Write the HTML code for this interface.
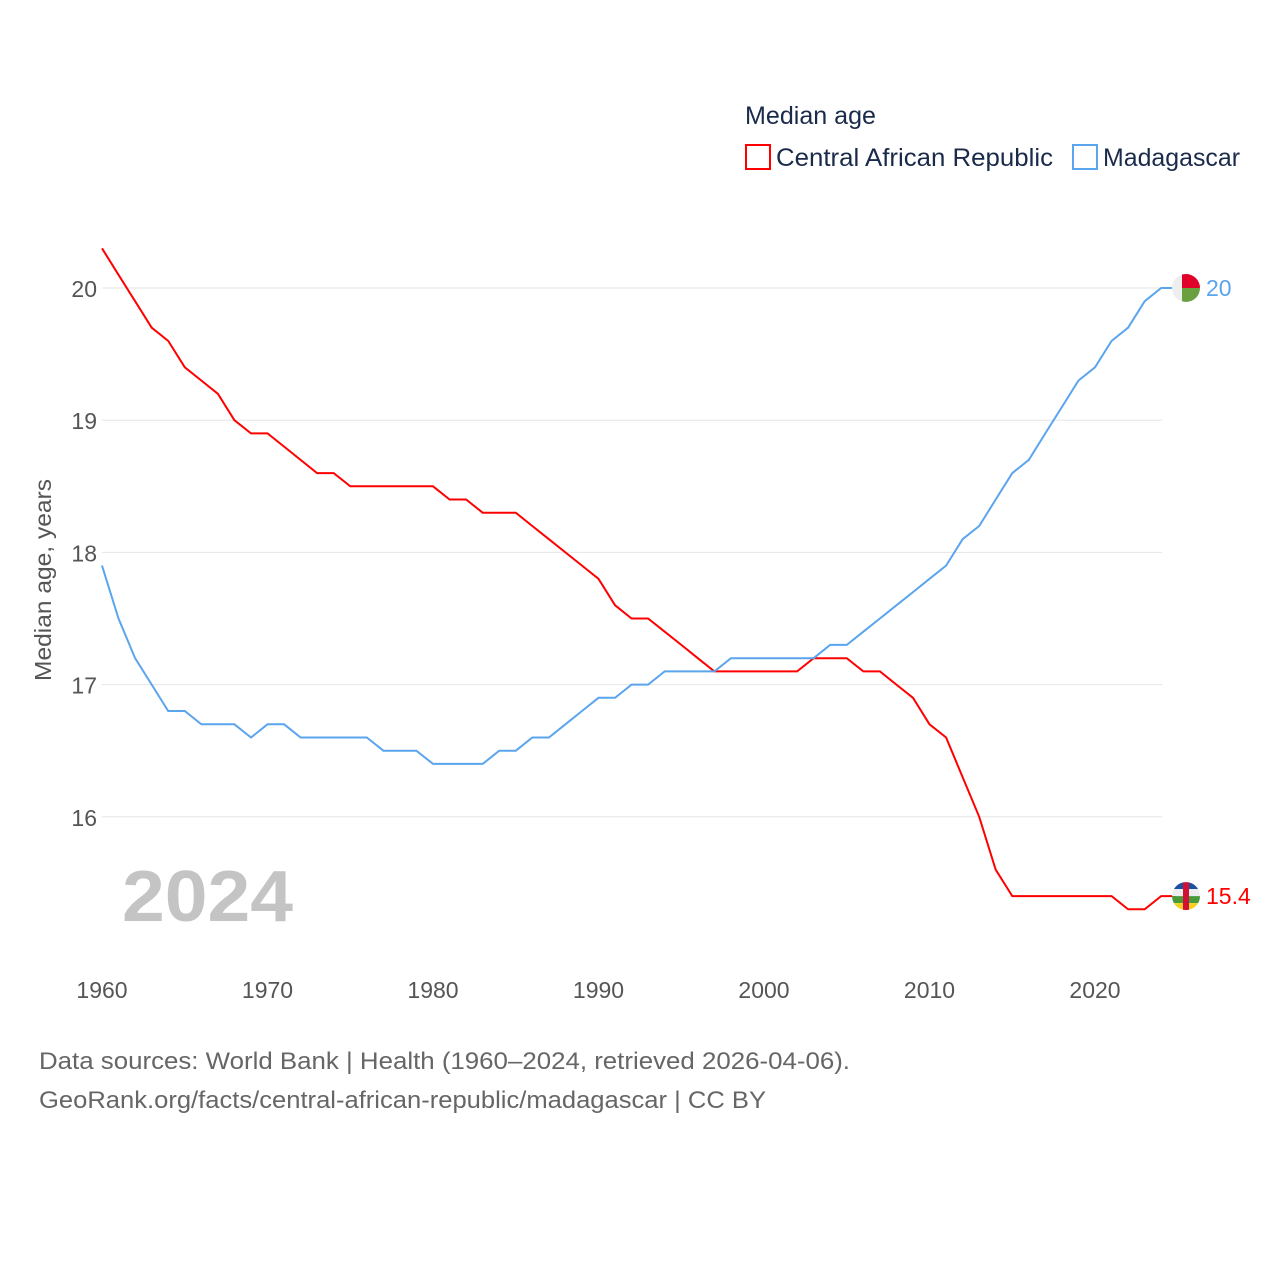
<!DOCTYPE html>
<html><head><meta charset="utf-8"><style>
body{margin:0;background:#fff;width:1280px;height:1280px;overflow:hidden;font-family:"Liberation Sans",sans-serif}
</style></head><body>
<svg id="chart" width="1280" height="1280" xmlns="http://www.w3.org/2000/svg" font-family="Liberation Sans, sans-serif">
<text x="745" y="124" font-size="25" fill="#1a2a4a" textLength="131" lengthAdjust="spacingAndGlyphs">Median age</text>
<g><rect x="746" y="145" width="24" height="24" fill="none" stroke="#ff0000" stroke-width="2"/><text x="776" y="166" font-size="25" fill="#1a2a4a" textLength="277" lengthAdjust="spacingAndGlyphs">Central African Republic</text></g>
<g><rect x="1073" y="145" width="24" height="24" fill="none" stroke="#5aa5ee" stroke-width="2"/><text x="1103" y="166" font-size="25" fill="#1a2a4a" textLength="137" lengthAdjust="spacingAndGlyphs">Madagascar</text></g>
<g id="grid"></g><g id="xt"></g><g id="yt"></g><g id="lines"></g>
<text transform="translate(51,580) rotate(-90)" text-anchor="middle" font-size="23" fill="#555" textLength="202" lengthAdjust="spacingAndGlyphs">Median age, years</text>
<text x="122" y="921" font-size="72" font-weight="bold" fill="#c4c4c4" textLength="171" lengthAdjust="spacingAndGlyphs">2024</text>
<text x="39" y="1069" font-size="24" fill="#666" textLength="811" lengthAdjust="spacingAndGlyphs">Data sources: World Bank | Health (1960–2024, retrieved 2026-04-06).</text>
<text x="39" y="1108" font-size="24" fill="#666" textLength="727" lengthAdjust="spacingAndGlyphs">GeoRank.org/facts/central-african-republic/madagascar | CC BY</text>
</svg>
<script>
const years=[];for(let y=1960;y<=2024;y++)years.push(y);
const carValues=[20.3,20.1,19.9,19.7,19.6,19.4,19.3,19.2,19.0,18.9,18.9,18.8,18.7,18.6,18.6,18.5,18.5,18.5,18.5,18.5,18.5,18.4,18.4,18.3,18.3,18.3,18.2,18.1,18.0,17.9,17.8,17.6,17.5,17.5,17.4,17.3,17.2,17.1,17.1,17.1,17.1,17.1,17.1,17.2,17.2,17.2,17.1,17.1,17.0,16.9,16.7,16.6,16.3,16.0,15.6,15.4,15.4,15.4,15.4,15.4,15.4,15.4,15.3,15.3,15.4];
const mdgValues=[17.9,17.5,17.2,17.0,16.8,16.8,16.7,16.7,16.7,16.6,16.7,16.7,16.6,16.6,16.6,16.6,16.6,16.5,16.5,16.5,16.4,16.4,16.4,16.4,16.5,16.5,16.6,16.6,16.7,16.8,16.9,16.9,17.0,17.0,17.1,17.1,17.1,17.1,17.2,17.2,17.2,17.2,17.2,17.2,17.3,17.3,17.4,17.5,17.6,17.7,17.8,17.9,18.1,18.2,18.4,18.6,18.7,18.9,19.1,19.3,19.4,19.6,19.7,19.9,20.0];
const yTicks=[16,17,18,19,20];
const xTicks=[1960,1970,1980,1990,2000,2010,2020];
const X=y=>102+(y-1960)*16.55, Y=v=>288-(v-20)*132.2;
const NS="http://www.w3.org/2000/svg";
function mk(t,a,p){const e=document.createElementNS(NS,t);for(const k in a)e.setAttribute(k,a[k]);document.getElementById(p).appendChild(e);return e;}
yTicks.forEach(v=>{
 const l=mk('line',{x1:102,x2:1162,y1:Y(v),y2:Y(v),stroke:'#e6e6e6','stroke-width':1},'grid');
 
 
 const t=mk('text',{x:97,y:Y(v)+9,'text-anchor':'end','font-size':23,fill:'#555'},'yt');t.textContent=v;
 
 
});
xTicks.forEach(v=>{
 const t=mk('text',{x:X(v),y:998,'text-anchor':'middle','font-size':23,fill:'#555'},'xt');t.textContent=v;
 
 
});
function series(vals,col,name,lbl,flag){
 let d=vals.map((v,i)=>(i?'L':'M')+X(years[i]).toFixed(1)+','+Y(v).toFixed(1)).join('');
 const last=vals[vals.length-1];
 d+='L1176,'+Y(last).toFixed(1);
 const p=mk('path',{d:d,fill:'none',stroke:col,'stroke-width':2},'lines');
 
 
 const g=mk('g',{},'lines');g.innerHTML=flag(1186,Y(last));
 
 
 const t=mk('text',{x:1206,y:Y(last)+8,'font-size':23,fill:col},'lines');t.textContent=lbl;
 
 
}
series(carValues,'#ff0000','car','15.4',(cx,cy)=>`<clipPath id="c1"><circle cx="${cx}" cy="${cy}" r="14"/></clipPath><g clip-path="url(#c1)"><rect x="${cx-14}" y="${cy-14}" width="28" height="7" fill="#1f4fa0"/><rect x="${cx-14}" y="${cy-7}" width="28" height="7" fill="#eee"/><rect x="${cx-14}" y="${cy}" width="28" height="7" fill="#4a9a3a"/><rect x="${cx-14}" y="${cy+7}" width="28" height="7" fill="#f5d020"/><rect x="${cx-3}" y="${cy-14}" width="6" height="28" fill="#d21034"/></g>`);
series(mdgValues,'#5aa5ee','madagascar','20',(cx,cy)=>`<clipPath id="c2"><circle cx="${cx}" cy="${cy}" r="14"/></clipPath><g clip-path="url(#c2)"><rect x="${cx-14}" y="${cy-14}" width="28" height="28" fill="#eee"/><rect x="${cx-4}" y="${cy-14}" width="18" height="14" fill="#e0002a"/><rect x="${cx-4}" y="${cy}" width="18" height="14" fill="#6aa040"/></g>`);
</script>
</body></html>
